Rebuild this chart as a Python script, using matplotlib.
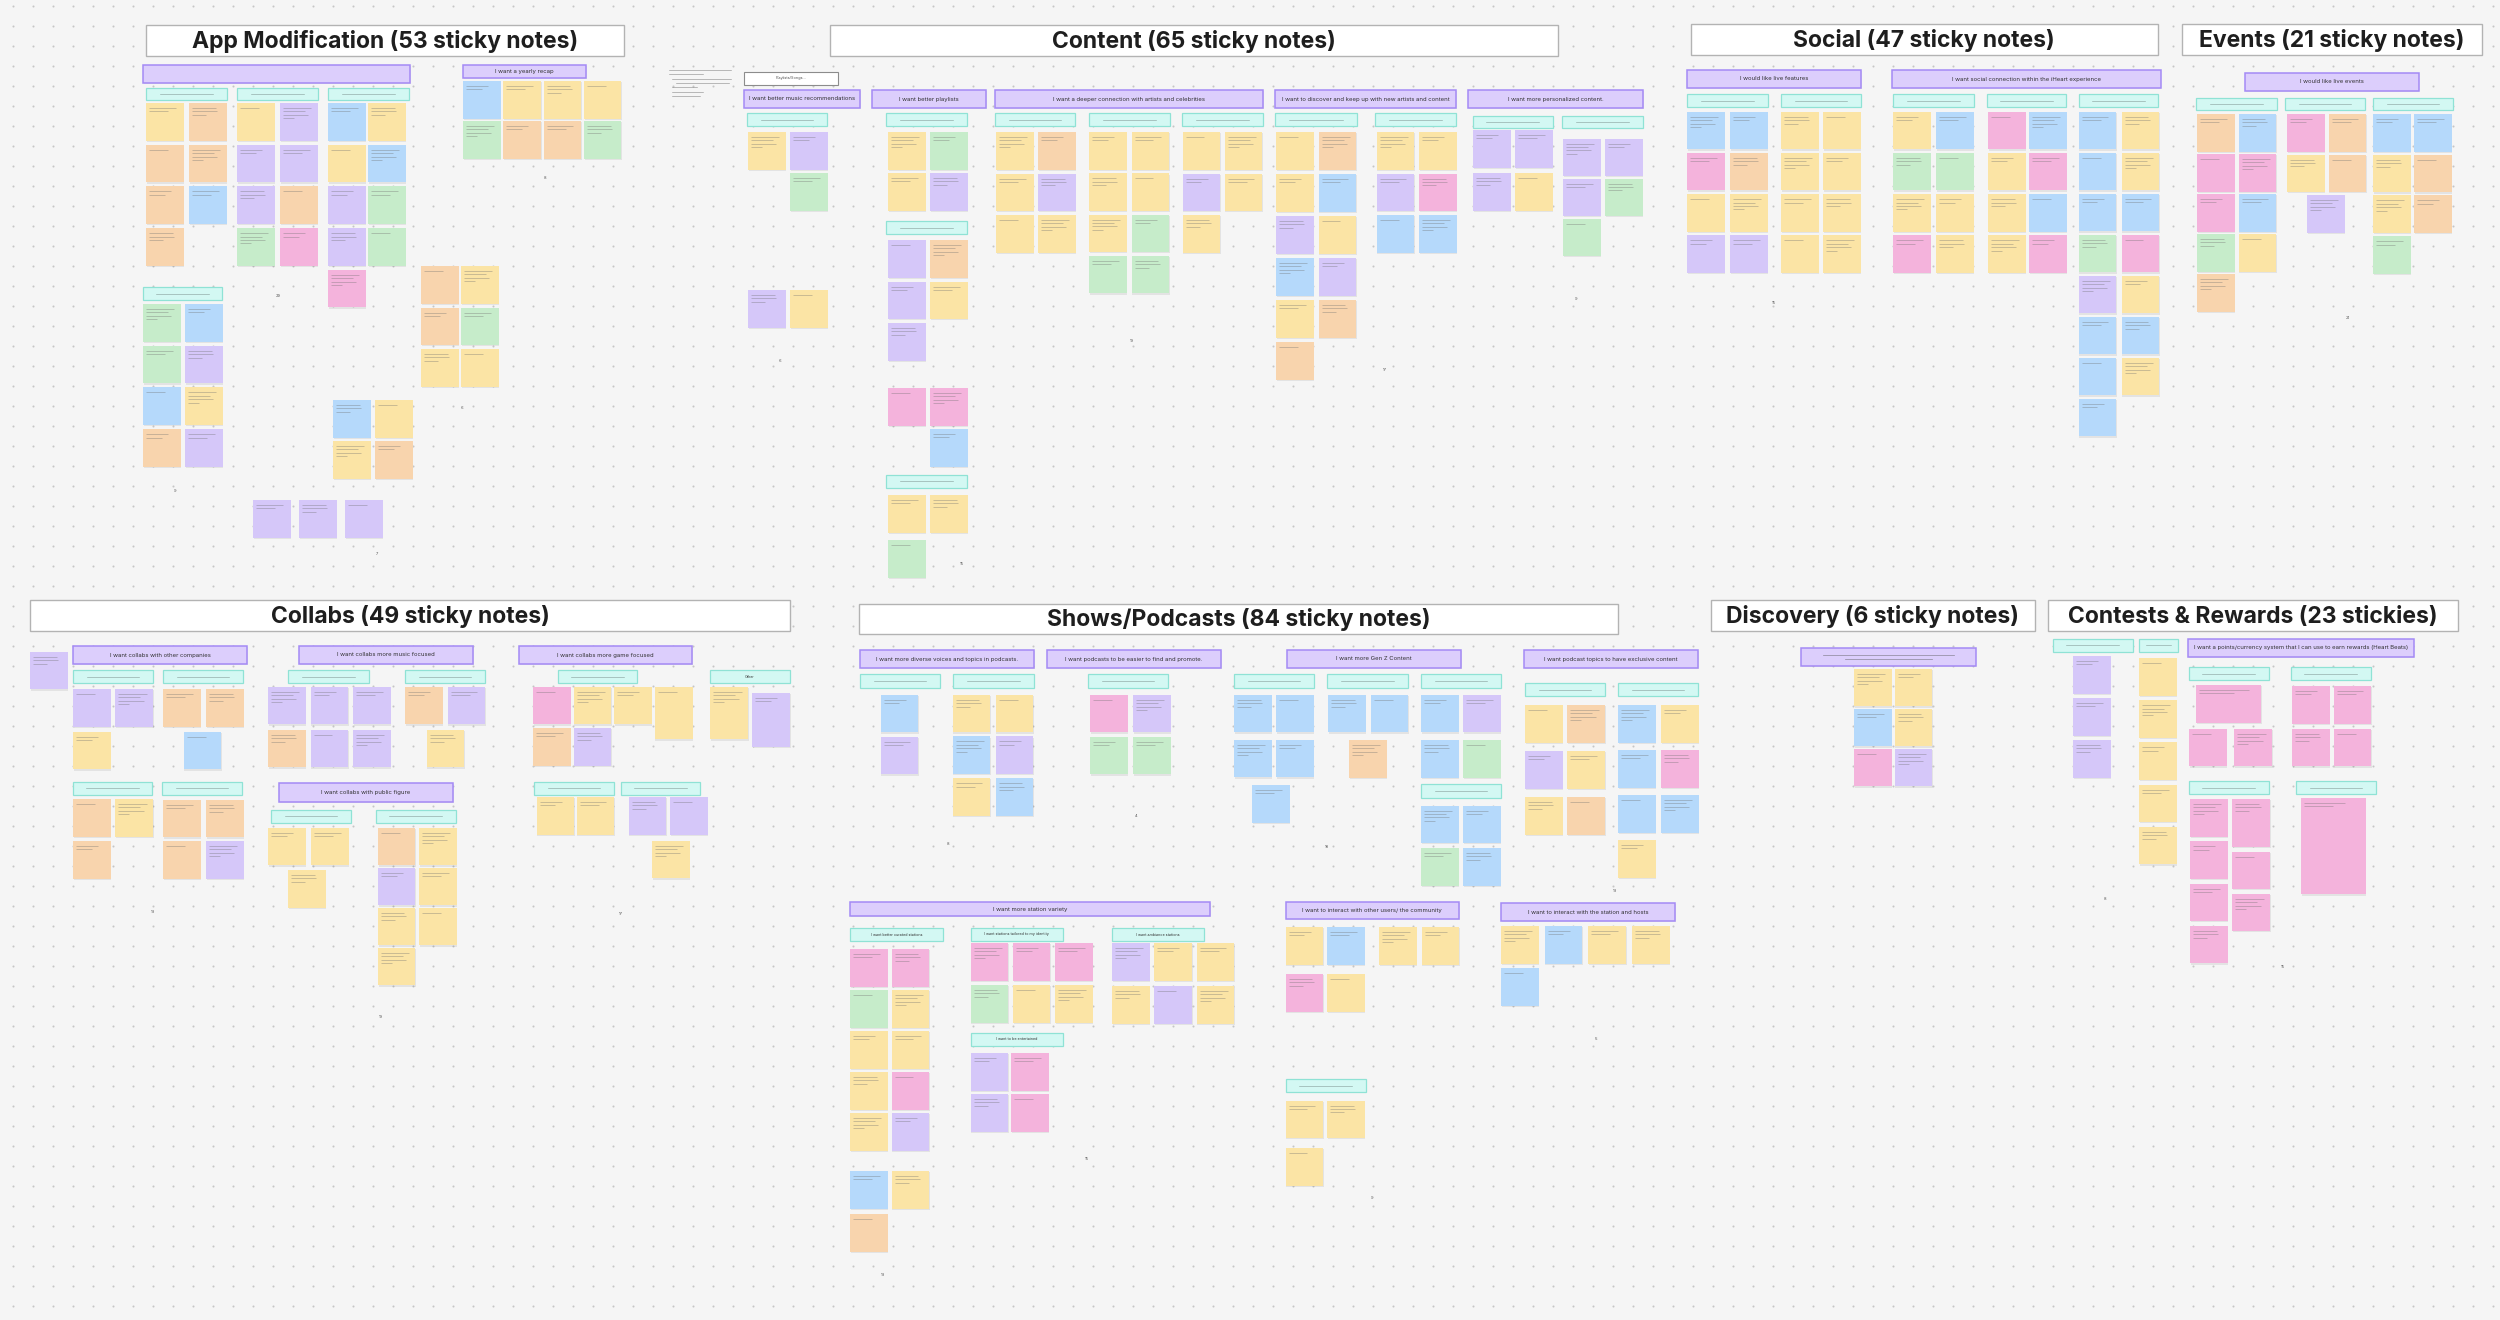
import matplotlib
matplotlib.use("Agg")
import matplotlib.pyplot as plt
from matplotlib.patches import Rectangle
import numpy as np

# sticky colours  Y yellow, O orange, P purple, B blue, G green, K pink
note_col = {'Y': '#fbe4a5', 'O': '#f8d4ad', 'P': '#d5c7f9',
            'B': '#b5d9fb', 'G': '#c6ecca', 'K': '#f4b3dc'}

# section titles: text, x0, x1, y0, y1
titles = [
    ("App Modification (53 sticky notes)", 146, 624, 25, 55.5),
    ("Content (65 sticky notes)", 829.5, 1557.6, 25, 55.5),
    ("Social (47 sticky notes)", 1690.6, 2158, 24, 55),
    ("Events (21 sticky notes)", 2182, 2482, 24, 55),
    ("Collabs (49 sticky notes)", 30, 790, 600, 631),
    ("Shows/Podcasts (84 sticky notes)", 859, 1618, 603.6, 634.3),
    ("Discovery (6 sticky notes)", 1710.7, 2034.5, 600, 631),
    ("Contests & Rewards (23 stickies)", 2048, 2458, 600, 631),
]

# purple theme headers: text, x0, x1, y0, y1
themes = [
    ("", 143, 410, 65, 83),
    ("I want a yearly recap", 463, 586, 65, 78),
    ("I want better music recommendations", 744, 860, 90, 108),
    ("I want better playlists", 872, 986, 90, 108),
    ("I want a deeper connection with artists and celebrities", 995, 1263, 90, 108),
    ("I want to discover and keep up with new artists and content", 1275, 1456, 90, 108),
    ("I want more personalized content.", 1468, 1643, 90, 108),
    ("I would like live features", 1687, 1861, 70, 88),
    ("I want social connection within the iHeart experience", 1892, 2160.6, 70, 88),
    ("I would like live events", 2245, 2418.6, 72.7, 90.7),
    ("I want collabs with other companies", 73, 247, 646, 664),
    ("I want collabs more music focused", 299, 473, 646, 664),
    ("I want collabs more game focused", 519, 692, 646, 664),
    ("I want collabs with public figure", 279, 453, 783, 801.7),
    ("I want more diverse voices and topics in podcasts.", 860, 1034, 650, 668),
    ("I want podcasts to be easier to find and promote.", 1047, 1221, 650, 668),
    ("I want more Gen Z Content", 1287, 1461, 650, 668),
    ("I want podcast topics to have exclusive content", 1524, 1698, 650, 668),
    ("I want more station variety", 850, 1210, 902, 916),
    ("I want to interact with other users/ the community", 1285.5, 1459, 902, 919),
    ("I want to interact with the station and hosts", 1501, 1675, 903, 921),
    (None, 1801, 1975.6, 648, 666),
    ("I want a points/currency system that I can use to earn rewards (Heart Beats)", 2188, 2413.7, 639, 657),
]

# cyan sub headers: x0, x1, y0, y1, text (None = too small to read)
subs = [
    (146, 227, 88, 100, None), (237, 318, 88, 100, None), (328, 409, 88, 100, None),
    (143, 222, 287, 300, None),
    (747, 827, 113, 126, None), (886, 967, 113, 126, None), (995, 1075, 113, 126, None),
    (1089, 1170, 113, 126, None), (1182, 1263, 113, 126, None), (1275, 1357, 113, 126, None),
    (1375, 1456, 113, 126, None), (1472.5, 1553, 115.5, 128, None), (1562, 1643, 115.5, 128, None),
    (886, 967, 221, 234, None), (886, 967, 474.5, 487.6, None),
    (1687, 1767.6, 94, 107, None), (1781, 1861, 94, 107, None), (1893, 1974, 94, 107, None),
    (1986.6, 2066, 94, 107, None), (2078.7, 2158, 94, 107, None),
    (2196, 2276.6, 97.7, 110, None), (2285, 2365, 97.7, 110, None), (2373, 2452.7, 97.7, 110, None),
    (73, 153, 670, 683, None), (163, 243, 670, 683, None), (288, 368.6, 670, 683, None),
    (405, 485, 670, 683, None), (558, 637, 670, 683, None), (710, 790, 670, 683, "Other"),
    (73, 152, 781.7, 795, None), (162, 242, 781.7, 795, None), (534, 614, 781.7, 795, None),
    (620.6, 700, 781.7, 795, None), (271, 351, 810, 822.7, None), (375.6, 456, 810, 822.7, None),
    (860, 940, 674, 687.6, None), (953, 1033.5, 674, 687.6, None), (1088, 1168, 674, 687.6, None),
    (1234, 1314, 674, 687.6, None), (1327, 1407.5, 674, 687.6, None), (1421, 1501, 674, 687.6, None),
    (1525, 1605, 683, 696, None), (1618, 1698, 683, 696, None), (1421, 1501, 784, 798, None),
    (850, 943, 928, 941, "I want better curated stations"),
    (970.6, 1063, 928, 941, "I want stations tailored to my identity"),
    (1112, 1204, 928, 941, "I want ambiance stations"),
    (970.6, 1063, 1033, 1046, "I want to be entertained"),
    (1285.5, 1365.6, 1079, 1092, None),
    (2052.6, 2132.7, 639, 651.7, None), (2139, 2177.6, 639, 651.7, None),
    (2188.5, 2269, 667, 680, None), (2290.7, 2370.8, 667, 680, None),
    (2188.5, 2269, 781, 794, None), (2296, 2376, 781, 794, None),
]

# sticky grids: x, y, column step, row step, colour rows
app_grids = [
    (146, 103, 43, 41.7, "YO/OO/OB/O"),
    (237, 103, 43, 41.7, "YP/PP/PO/GK"),
    (328, 103, 40, 41.7, "BY/YB/PG/PG/K"),
    (463, 81, 40.3, 40, "BYYY/GOOG"),
    (421, 266, 40, 41.5, "OY/OG/YY"),
    (143, 304, 42, 41.7, "GB/GP/BY/OP"),
    (333, 400, 42, 41, "BY/YO"),
    (253, 500, 46, 0, "PPP"),
]
content_grids = [
    (748, 132, 42, 41, "YP/.G"), (748, 290, 42, 0, "PY"),
    (888, 132, 42, 41, "YG/YP"), (888, 240, 42, 41.5, "PO/PY/P"),
    (888, 388, 42, 41, "KK/.B"), (888, 495, 42, 45, "YY/G"),
    (996, 132, 42, 41.5, "YO/YP/YY"),
    (1089, 132, 42.5, 41.3, "YY/YY/YG/GG"),
    (1182.5, 132, 42.2, 41.5, "YY/PY/Y"),
    (1276, 132, 42.5, 42, "YO/YB/PY/BP/YO/O"),
    (1376.7, 132, 42.3, 41.5, "YY/PK/BB"),
    (1473, 130, 42, 43, "PP/PY"),
    (1563, 138.5, 42, 40, "PP/PG/G"),
]
social_grids = [
    (1687, 111.7, 43, 41.2, "BB/KO/YY/PP"),
    (1781, 111.7, 42, 41.2, "YY/YY/YY/YY"),
    (1893, 111.7, 43, 41.2, "YB/GG/YY/KY"),
    (1988, 111.7, 41, 41.2, "KB/YK/YB/YK"),
    (2078.7, 111.7, 42.8, 41, "BY/BY/BB/GK/PY/BB/BY/B"),
]
events_grids = [
    (2197, 114, 41.6, 40, "OB/KK/KB/GY/O"),
    (2287, 114, 41.6, 40.5, "KO/YO"), (2307, 195, 0, 0, "P"),
    (2373, 114, 41, 40.7, "BB/YO/YO/G"),
]
collab_grids = [
    (30, 651.7, 0, 0, "P"),
    (73, 689, 42.4, 42.7, "PP/Y"),
    (163, 689, 43, 0, "OO"), (183.7, 731.7, 0, 0, "B"),
    (268, 686.7, 42.5, 43, "PPP/OPP"),
    (405, 686.7, 42.7, 0, "OP"), (426.6, 729.7, 0, 0, "Y"),
    (533, 686.7, 40.5, 41.3, "KYY/OP"),
    (73, 799, 42.4, 42, "OY/O"),
    (163, 799.7, 43, 41.3, "OO/OP"),
    (268, 827.7, 43, 0, "YY"), (288, 870, 0, 0, "Y"),
    (377.8, 827.7, 41.2, 40, "OY/PY/YY/Y"),
    (536.6, 797, 40.1, 0, "YY"),
    (628.7, 797, 41.3, 0, "PP"), (652, 840.7, 0, 0, "Y"),
]
shows_grids = [
    (880.6, 694.7, 0, 42, "B/P"),
    (952.7, 694.7, 42.9, 41.7, "YY/BP/YB"),
    (1090, 694.7, 43, 42, "KP/GG"),
    (1234, 694.7, 42, 45.2, "BB/BB"), (1252, 785, 0, 0, "B"),
    (1328, 694.7, 42.6, 0, "BB"), (1349, 740, 0, 0, "O"),
    (1421, 694.7, 42, 45.3, "BP/BG"), (1421, 805.6, 42, 42.4, "BB/GB"),
    (1525, 705, 42.4, 46, "YO/PY/YO"),
    (1618, 705, 43, 45, "BY/BK/BB/Y"),
    (850, 949, 41.5, 41, "KK/GY/YY/YK/YP"), (850, 1171, 41.5, 43, "BY/O"),
    (970.6, 943, 42.2, 42, "KKK/GYY"),
    (970.6, 1053, 40.4, 41, "PK/PK"),
    (1112, 943, 42.3, 43, "PYY/YPY"),
    (1285.5, 927, 41.5, 47, "YB/KY"), (1379, 927, 42.6, 0, "YY"),
    (1285.5, 1100.5, 41.5, 47.5, "YY/Y"),
    (1501, 926, 43.7, 42, "YBYY/B"),
]
discovery_grids = [
    (1854, 668.7, 40.5, 40, "YY/BY/KP"),
]
contest_grids = [
    (2073, 656, 0, 42, "P/P/P"),
    (2139, 658, 0, 42.2, "Y/Y/Y/Y/Y"),
    (2189, 728.7, 45.4, 0, "KK"),
    (2292, 686, 41.6, 42.7, "KK/KK"),
    (2190, 799, 0, 42.3, "K/K/K/K"),
]
# odd sized stickies: x, y, w, h, colour
odd_notes = [
    (654.7, 686.7, 38, 52.7, 'Y'), (710, 686.7, 38, 52.7, 'Y'), (752, 693, 38, 54, 'P'),
    (2196, 685, 65, 38, 'K'),
    (2232, 799, 38, 47.7, 'K'), (2232, 851.7, 38, 37.3, 'K'), (2232, 894, 38, 37, 'K'),
    (2301, 798, 64.6, 96.3, 'K'),
]
# small vote counts under the clusters
counts = [
    (278, 296, "29"), (545, 178, "8"), (780, 361, "6"), (174.5, 491, "9"), (462, 408, "6"),
    (377, 554, "7"), (1132, 340.6, "19"), (1385, 370, "17"), (1576, 298.5, "9"),
    (961.5, 563.7, "15"), (1773.6, 303, "15"), (2348, 318, "21"),
    (153.4, 911.7, "13"), (621, 914, "17"), (381, 1017, "19"),
    (948, 844, "8"), (1136, 816, "4"), (1327, 846.6, "18"), (1615, 891.5, "13"),
    (883, 1274.7, "13"), (1086.6, 1159.5, "15"), (1596, 1039, "5"), (1371.7, 1198, "9"),
    (2105, 899, "8"), (2283, 966.7, "15"),
]

W, H = 2500, 1320
NOTE = 37.5
fig = plt.figure(figsize=(25, 13.2), dpi=100)
ax = fig.add_axes([0, 0, 1, 1])
ax.set_xlim(0, W)
ax.set_ylim(H, 0)
ax.axis('off')
fig.patch.set_facecolor('#f5f5f5')

# dotted canvas
gx, gy = np.meshgrid(np.arange(12.7, W, 20), np.arange(6, H, 20))
ax.scatter(gx.ravel(), gy.ravel(), s=2.2, c='#c6c6c6', lw=0, zorder=0)

line_sets = [(0.85, 0.6), (0.75, 0.8, 0.45), (0.6,), (0.9, 0.7, 0.8, 0.35), (0.7, 0.5)]
count = [0]


def note(x, y, w, h, c):
    ax.add_patch(Rectangle((x + 0.7, y + 1.3), w, h, fc='black', alpha=0.07, lw=0, zorder=2))
    ax.add_patch(Rectangle((x, y), w, h, fc=note_col[c], lw=0, zorder=3))
    ls = line_sets[count[0] % len(line_sets)]
    count[0] += 1
    for j, f in enumerate(ls):
        yy = y + 5 + j * 3.4
        ax.plot([x + 3, x + 3 + (w - 6) * f], [yy, yy], color='#6f6f6f', lw=0.45,
                alpha=0.55, zorder=4, solid_capstyle='butt')


for grids in [app_grids, content_grids, social_grids, events_grids,
              collab_grids, shows_grids, discovery_grids, contest_grids]:
    for x, y, dx, dy, rows in grids:
        for r, row in enumerate(rows.split('/')):
            for k, c in enumerate(row):
                if c != '.':
                    note(x + k * dx, y + r * dy, NOTE, NOTE, c)

for x, y, w, h, c in odd_notes:
    note(x, y, w, h, c)

for t, x0, x1, y0, y1 in titles:
    ax.add_patch(Rectangle((x0, y0), x1 - x0, y1 - y0, fc='white', ec='#b3b3b3', lw=1.0, zorder=3))
    ax.text((x0 + x1) / 2, (y0 + y1) / 2 + 1, t, ha='center', va='center', fontsize=16.5,
            fontweight='bold', family=['Inter', 'DejaVu Sans'], color='#1e1e1e', zorder=5)

for t, x0, x1, y0, y1 in themes:
    ax.add_patch(Rectangle((x0 + 0.6, y0 + 1.2), x1 - x0, y1 - y0, fc='black', alpha=0.06, lw=0, zorder=2))
    ax.add_patch(Rectangle((x0, y0), x1 - x0, y1 - y0, fc='#dccefc', ec='#a48af5', lw=1.1, zorder=3))
    if t:
        ax.text((x0 + x1) / 2, (y0 + y1) / 2, t, ha='center', va='center', fontsize=4.3,
                family=['Inter', 'DejaVu Sans'], color='#333333', zorder=5)
    elif t is None:
        for j, f in enumerate((0.75, 0.5)):
            yy = (y0 + y1) / 2 - 2 + j * 4
            ax.plot([(x0 + x1) / 2 - (x1 - x0) * f / 2, (x0 + x1) / 2 + (x1 - x0) * f / 2],
                    [yy, yy], color='#555555', lw=0.5, alpha=0.6, zorder=5)

for x0, x1, y0, y1, t in subs:
    ax.add_patch(Rectangle((x0, y0), x1 - x0, y1 - y0, fc='#d3f8f3', ec='#8fe2d5', lw=0.9, zorder=3))
    xc, yc = (x0 + x1) / 2, (y0 + y1) / 2
    if t:
        ax.text(xc, yc, t, ha='center', va='center', fontsize=2.7,
                family=['Inter', 'DejaVu Sans'], color='#333333', zorder=5)
    else:
        ax.plot([xc - (x1 - x0) * 0.33, xc + (x1 - x0) * 0.33], [yc, yc],
                color='#5f6f6c', lw=0.45, alpha=0.6, zorder=5)

# small white label and loose text block next to Content
ax.add_patch(Rectangle((744, 71.5), 93.5, 13.1, fc='white', ec='#8c8c8c', lw=0.8, zorder=3))
ax.text(790.7, 78, "Playlists/Songs...", ha='center', va='center', fontsize=2.8,
        family=['Inter', 'DejaVu Sans'], color='#555555', zorder=5)
for j, (xs, f) in enumerate([(669, 1.0), (669, 0.55), (672, 0.95), (676, 0.85),
                             (672, 0.4), (672, 0.5), (672, 0.45)]):
    yy = 70 + j * 4.3
    ax.plot([xs, xs + 62 * f], [yy, yy], color='#555555', lw=0.45, alpha=0.6, zorder=5)

for x, y, t in counts:
    ax.text(x, y, t, ha='center', va='center', fontsize=3, color='#555555',
            family=['Inter', 'DejaVu Sans'], zorder=5)

fig.savefig('out.png', dpi=100, facecolor=fig.get_facecolor())
